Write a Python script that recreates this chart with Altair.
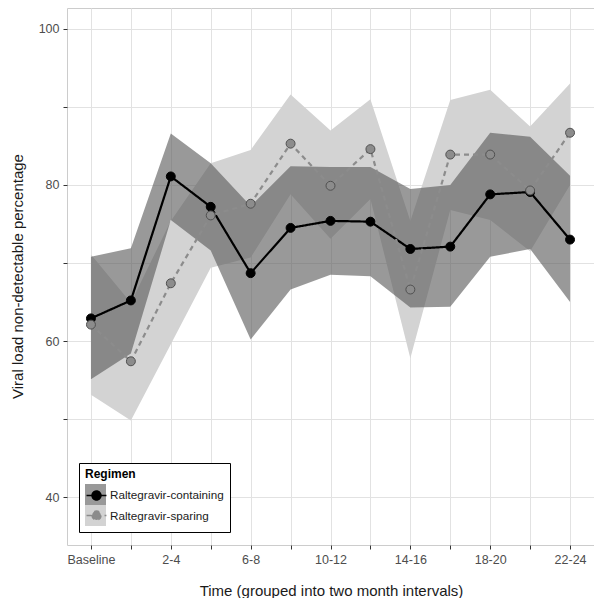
import altair as alt
import pandas as pd

times = ["Baseline", "0-2", "2-4", "4-6", "6-8", "8-10", "10-12", "12-14",
         "14-16", "16-18", "18-20", "20-22", "22-24"]
regimens = ["Raltegravir-containing", "Raltegravir-sparing"]

cont_mean = [62.9, 65.2, 81.1, 77.2, 68.7, 74.5, 75.4, 75.3, 71.8, 72.1, 78.8, 79.1, 73.0]
cont_upper = [70.8, 71.9, 86.6, 82.8, 77.3, 82.4, 82.3, 82.3, 79.5, 80.0, 86.7, 86.2, 81.2]
cont_lower = [55.1, 58.4, 75.5, 71.6, 60.2, 66.6, 68.5, 68.3, 64.3, 64.4, 70.8, 71.8, 65.0]

spar_mean = [62.1, 57.4, 67.4, 76.1, 77.6, 85.3, 79.9, 84.6, 66.6, 83.9, 83.9, 79.3, 86.7]
spar_upper = [71.1, 64.9, 75.4, 82.8, 84.5, 91.6, 87.0, 91.0, 75.4, 90.9, 92.2, 87.5, 93.0]
spar_lower = [53.1, 49.8, 59.6, 69.4, 70.7, 78.8, 73.1, 78.2, 57.8, 76.8, 75.5, 71.5, 80.0]

y_ticks = [40, 50, 60, 70, 80, 90, 100]
y_labelled = [40, 60, 80, 100]
hidden_x = [t for i, t in enumerate(times) if i % 2 == 1]

rows = []
for i, t in enumerate(times):
    rows.append(dict(time=t, regimen=regimens[0], band=regimens[0],
                     value=cont_mean[i], lower=cont_lower[i], upper=cont_upper[i]))
    rows.append(dict(time=t, regimen=regimens[1], band=regimens[1],
                     value=spar_mean[i], lower=spar_lower[i], upper=spar_upper[i]))
df = pd.DataFrame(rows)

FONT = "Liberation Sans"

hidden_expr = "indexof([" + ",".join("'%s'" % h for h in hidden_x) + "], datum.label) >= 0 ? '' : datum.label"
y_expr = "indexof([" + ",".join(str(v) for v in y_labelled) + "], datum.value) >= 0 ? datum.label : ''"

x_enc = alt.X("time:O", sort=times,
              scale=alt.Scale(type="point", padding=0.6),
              axis=alt.Axis(title="Time (grouped into two month intervals)",
                            labelExpr=hidden_expr, labelAngle=0,
                            domain=False, tickSize=4, tickColor="#333333",
                            labelPadding=4, labelFontSize=12.5, labelColor="#4d4d4d",
                            labelFont=FONT, titleFont=FONT, titleFontSize=15,
                            titleFontWeight="normal", titleColor="#1a1a1a",
                            titleX=264, titleY=45, titleAnchor="middle",
                            titleBaseline="middle",
                            grid=True, gridColor="#e2e2e2", gridWidth=1))

y_scale = alt.Scale(domain=[33.85, 102.69], nice=False, zero=False)
y_axis = alt.Axis(title="Viral load non-detectable percentage", values=y_ticks,
                  labelExpr=y_expr, domain=False, tickSize=4, tickColor="#333333",
                  labelPadding=4, labelFontSize=12.5, labelColor="#4d4d4d",
                  labelFont=FONT, titleFont=FONT, titleFontSize=15,
                  titleFontWeight="normal", titleColor="#1a1a1a",
                  titleX=-50, titleY=268, titleAngle=-90, titleAlign="center",
                  titleBaseline="middle",
                  grid=True, gridColor="#e2e2e2", gridWidth=1)

fill_legend = alt.Legend(title="Regimen", orient="none", legendX=12, legendY=455,
                         symbolType="square", symbolSize=441, symbolStrokeWidth=0,
                         padding=6, rowPadding=0, titlePadding=3,
                         titleFont=FONT, titleFontSize=12, titleFontWeight="bold",
                         titleColor="#000000",
                         labelFont=FONT, labelFontSize=11.7, labelColor="#1a1a1a",
                         labelOffset=4, strokeColor="#000000", fillColor="#ffffff",
                         cornerRadius=0)

fill_scale = alt.Scale(range=["rgba(89,89,89,0.61)", "#d3d3d3"])

base = alt.Chart(df)

area_spar = base.transform_filter(alt.datum.band == regimens[1]).mark_area(opacity=1).encode(
    x=x_enc,
    y=alt.Y("lower:Q", scale=y_scale, axis=y_axis),
    y2="upper:Q",
    fill=alt.Fill("band:N", scale=fill_scale, legend=fill_legend),
)
area_cont = base.transform_filter(alt.datum.band == regimens[0]).mark_area(opacity=1).encode(
    x=x_enc,
    y=alt.Y("lower:Q", scale=y_scale, axis=y_axis),
    y2="upper:Q",
    fill=alt.Fill("band:N", scale=fill_scale, legend=fill_legend),
)

sym_path = ("M-0.95,0H0.95M0.42,0A0.42,0.42,0,1,1,-0.42,0A0.42,0.42,0,1,1,0.42,0Z")

color_legend = alt.Legend(title="Regimen", orient="none", legendX=12, legendY=455,
                          symbolType=sym_path, symbolSize=441, symbolStrokeWidth=1.6,
                          symbolOpacity=1,
                          padding=6, rowPadding=0, titlePadding=3,
                          titleFont=FONT, titleFontSize=12, titleFontWeight="bold",
                          titleOpacity=0, labelExpr="''",
                          labelFont=FONT, labelFontSize=11.7, labelOffset=4)

color_scale = alt.Scale(domain=regimens, range=["#000000", "#8c8c8c"])
stroke_scale = alt.Scale(domain=regimens, range=["#000000", "#505050"])
dash_scale = alt.Scale(domain=regimens, range=[[1, 0], [5, 4]])

lines = base.mark_line(strokeWidth=2.2).encode(
    x=x_enc,
    y=alt.Y("value:Q", scale=y_scale, axis=y_axis),
    color=alt.Color("regimen:N", scale=color_scale, legend=color_legend),
    strokeDash=alt.StrokeDash("regimen:N", scale=dash_scale, legend=color_legend),
    detail="regimen:N",
)

points = base.mark_point(filled=True, size=80, opacity=1, strokeWidth=1).encode(
    x=x_enc,
    y=alt.Y("value:Q", scale=y_scale, axis=y_axis),
    color=alt.Color("regimen:N", scale=color_scale, legend=color_legend),
    stroke=alt.Stroke("regimen:N", scale=stroke_scale, legend=color_legend),
)

chart = alt.layer(area_spar, area_cont, lines, points).properties(
    width=527, height=537,
    autosize=alt.AutoSizeParams(type="none"),
    padding={"left": 59, "top": 0, "right": 0, "bottom": 53},
    background="#ffffff",
).configure_view(stroke="#cccccc", strokeWidth=1)

chart.save("out.html", embed_options={"renderer": "svg", "actions": False})
